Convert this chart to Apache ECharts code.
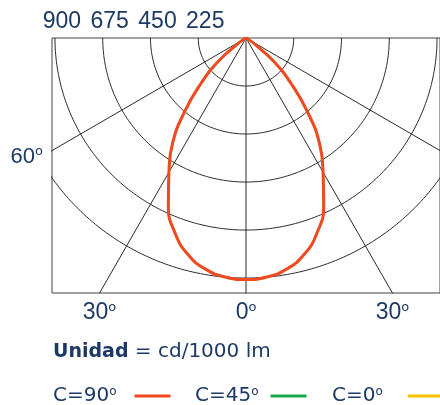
<!DOCTYPE html>
<html lang="es">
<head>
<meta charset="utf-8">
<title>Curva fotométrica</title>
<script src="https://cdn.jsdelivr.net/npm/echarts@6/dist/echarts.min.js"></script>
</head>
<body style="margin:0">
<div id="container" style="width:440px;height:405px"></div>
<script>
// ángulo gamma (º) -> intensidad en cd/1000 lm, medio plano (curva simétrica)
var ANGLES = [0, 5, 10, 15, 20, 25, 30, 35, 40, 45, 50, 55, 60, 65, 70, 75, 80, 85, 90];
var C90 = [1132, 1124, 1100, 1052, 975, 866, 726, 604, 449, 298, 170, 50, 15, 5, 0, 0, 0, 0, 0];
var C45 = [1132, 1124, 1100, 1052, 975, 866, 726, 604, 449, 298, 170, 50, 15, 5, 0, 0, 0, 0, 0];
var C0 = [1132, 1124, 1100, 1052, 975, 866, 726, 604, 449, 298, 170, 50, 15, 5, 0, 0, 0, 0, 0];

var RINGS = [225, 450, 675, 900, 1125];
var SPOKES = [-60, -30, 0, 30, 60];
var TOP_TICKS = [-900, -675, -450, -225];
var BOTTOM_TICKS = [-30, 0, 30];
var SIDE_TICKS = [60];

var X_HALF = 914, Y_DEPTH = 1195;
var NAVY = '#1d3a66';
var LABEL_FONT = '"Liberation Sans Narrow", "Liberation Sans", sans-serif';
var TEXT_FONT = '"DejaVu Sans", sans-serif';
var rad = Math.PI / 180;

function toXY(r, a) {
    return [r * Math.sin(a * rad), -r * Math.cos(a * rad)];
}

function curve(vals) {
    var pts = [];
    for (var i = ANGLES.length - 1; i >= 0; i--) pts.push(toXY(vals[i], -ANGLES[i]));
    for (var j = 1; j < ANGLES.length; j++) pts.push(toXY(vals[j], ANGLES[j]));
    return pts;
}

// "º" dibujado como una o volada (sin subrayado)
function deg(text) {
    return text.replace('º', '{o|o}');
}

function degRich(size, color) {
    return {o: {fontFamily: TEXT_FONT, fontSize: size, color: color, verticalAlign: 'top', lineHeight: size}};
}

var gridSeries = [];
RINGS.forEach(function (r) {
    var pts = [];
    for (var a = -90; a <= 90; a += 1) pts.push(toXY(r, a));
    gridSeries.push(pts);
});
SPOKES.forEach(function (a) {
    gridSeries.push([[0, 0], toXY(3000, a)]);
});

var dom = document.getElementById('container');
var myChart = echarts.init(dom, null, {renderer: 'canvas'});

var series = gridSeries.map(function (pts) {
    return {
        type: 'line', data: pts, showSymbol: false, silent: true, smooth: false,
        lineStyle: {color: '#2b2b2b', width: 1}, z: 1
    };
});
series.push(
    {name: 'C=0º', type: 'line', data: curve(C0), showSymbol: false, smooth: 0.5, color: '#f7c300', lineStyle: {width: 2}, z: 2},
    {name: 'C=45º', type: 'line', data: curve(C45), showSymbol: false, smooth: 0.5, color: '#17a84b', lineStyle: {width: 2}, z: 2},
    {name: 'C=90º', type: 'line', data: curve(C90), showSymbol: false, smooth: 0.5, color: '#f04a22', lineStyle: {width: 3}, z: 3}
);

function legendAt(name, left, pad) {
    return {
        data: [name], left: left, top: 386, padding: 0, align: 'right', icon: 'rect',
        itemWidth: 36, itemHeight: 3, selectedMode: false,
        formatter: deg,
        textStyle: {
            fontFamily: TEXT_FONT, fontSize: 20, color: NAVY, padding: [0, pad, 0, 0],
            rich: degRich(12, NAVY)
        }
    };
}

var option = {
    animation: false,
    title: {
        left: 53, top: 342, padding: 0,
        text: '{b|Unidad} = cd/1000 lm',
        textStyle: {
            fontFamily: TEXT_FONT, fontSize: 20, fontWeight: 'normal', color: NAVY,
            rich: {b: {fontFamily: TEXT_FONT, fontSize: 19, fontWeight: 'bold', color: NAVY}}
        }
    },
    legend: [
        legendAt('C=90º', 53, 13),
        legendAt('C=45º', 195, 7),
        legendAt('C=0º', 332, 20)
    ],
    grid: {
        left: 52, top: 38, width: 390, height: 255,
        show: true, borderColor: '#444', borderWidth: 1
    },
    xAxis: [
        {
            type: 'value', position: 'bottom', min: -X_HALF, max: X_HALF,
            axisLine: {show: false}, axisTick: {show: false}, splitLine: {show: false},
            axisLabel: {
                customValues: BOTTOM_TICKS.map(function (a) { return Y_DEPTH * Math.tan(a * rad); }),
                margin: 8, fontFamily: LABEL_FONT, fontSize: 23, color: NAVY,
                rich: degRich(13, NAVY),
                formatter: function (v) {
                    return deg(Math.round(Math.atan2(Math.abs(v), Y_DEPTH) / rad) + 'º');
                }
            }
        },
        {
            type: 'value', position: 'top', min: -X_HALF, max: X_HALF,
            axisLine: {show: false}, axisTick: {show: false}, splitLine: {show: false},
            axisLabel: {
                customValues: TOP_TICKS,
                margin: 5, fontFamily: LABEL_FONT, fontSize: 23, color: NAVY,
                padding: [0, 0, 0, 14],
                formatter: function (v) { return String(Math.abs(v)); }
            }
        }
    ],
    yAxis: {
        type: 'value', min: -Y_DEPTH, max: 0,
        axisLine: {show: false}, axisTick: {show: false}, splitLine: {show: false},
        axisLabel: {
            customValues: SIDE_TICKS.map(function (a) { return -X_HALF / Math.tan(a * rad); }),
            margin: 9, fontFamily: LABEL_FONT, fontSize: 22, color: NAVY,
            padding: [12, 0, 0, 0],
            rich: degRich(13, NAVY),
            formatter: function (v) {
                return deg(Math.round(Math.atan2(X_HALF, Math.abs(v)) / rad) + 'º');
            }
        }
    },
    series: series
};

myChart.setOption(option);
window.addEventListener('resize', myChart.resize);
</script>
</body>
</html>
